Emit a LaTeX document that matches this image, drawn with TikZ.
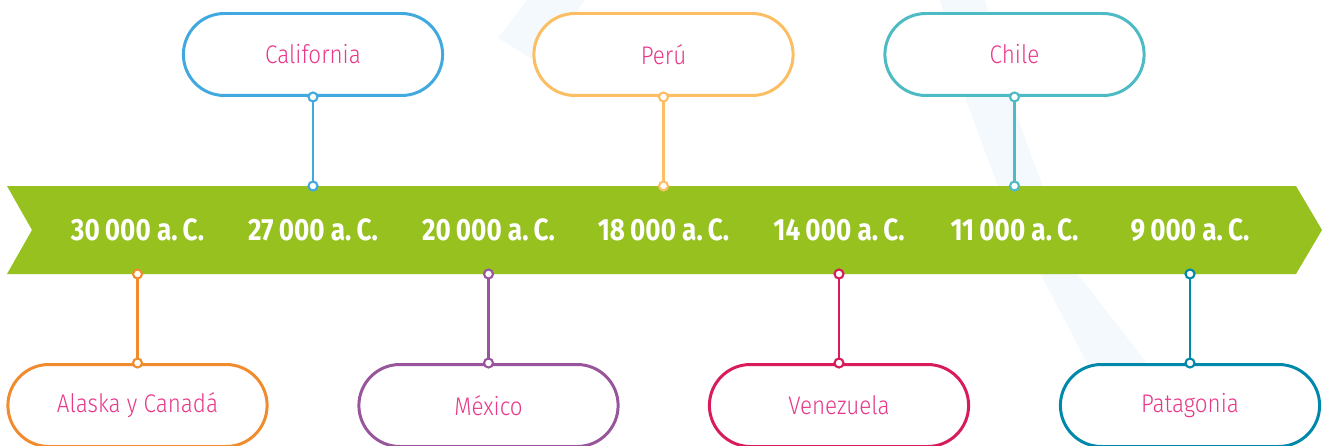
\documentclass[tikz,border=0pt]{standalone}
\usepackage{fontspec}
\setmainfont{Fira Sans}
\newfontfamily\placefont{Fira Sans Light}[FakeStretch=0.88]
\newfontfamily\datefont{Fira Sans}[FakeStretch=0.85]
\usetikzlibrary{shapes.misc}
\definecolor{bandgreen}{RGB}{150,193,31}
\definecolor{placepink}{RGB}{232,56,138}
\definecolor{faintblue}{RGB}{244,249,253}
\definecolor{calblue}{RGB}{63,169,224}
\definecolor{peruyellow}{RGB}{251,190,98}
\definecolor{chileteal}{RGB}{77,187,196}
\definecolor{alaskaorange}{RGB}{240,140,45}
\definecolor{mexpurple}{RGB}{152,85,156}
\definecolor{venred}{RGB}{216,27,90}
\definecolor{patblue}{RGB}{0,136,170}
\begin{document}
\begin{tikzpicture}[x=0.02cm, y=-0.02cm,
  place/.style={draw=#1, line width=1.7pt, fill=white, rounded rectangle, minimum width=5.42cm, minimum height=1.64cm, text=placepink, font=\placefont\fontsize{14.5}{18}\selectfont},
  date/.style={text=white, font=\datefont\bfseries\fontsize{17.5}{20}\selectfont},
  link/.style={draw=#1, line width=1.3pt},
  dot/.style={draw=#1, line width=1.2pt, fill=white}]
\useasboundingbox (0,0) rectangle (1322,446);

% Faint background strokes
\fill[faintblue] (527,0) -- (585,0) -- (555,45) -- (565,80) -- (498,38) -- cycle;
\fill[faintblue] (940,0) -- (985,0) -- (1010,97) -- (1043,187) -- (1077,273) -- (1147,363) -- (1147,420) -- (1087,420) -- (1087,363) -- (1040,273) -- (998,187) -- (965,97) -- cycle;

% Time band
\fill[bandgreen] (7,186) -- (1296,186) -- (1322,230) -- (1296,274) -- (7,274) -- (32,230) -- cycle;
\coordinate (bandtop) at (0,186);
\coordinate (bandbot) at (0,274);

% Dates
\node[date] (d30) at (137.5,230) {30\,000 a.\,C.};
\node[date] (d27) at (313,230) {27\,000 a.\,C.};
\node[date] (d20) at (488.5,230) {20\,000 a.\,C.};
\node[date] (d18) at (663.5,230) {18\,000 a.\,C.};
\node[date] (d14) at (839,230) {14\,000 a.\,C.};
\node[date] (d11) at (1014.5,230) {11\,000 a.\,C.};
\node[date] (d9) at (1190,230) {9\,000 a.\,C.};

% Places above
\node[place=calblue] (california) at (313,54.5) {California};
\node[place=peruyellow] (peru) at (663.5,54.5) {Perú};
\node[place=chileteal] (chile) at (1014.5,54.5) {Chile};

% Places below
\node[place=alaskaorange] (alaska) at (137.5,405.5) {Alaska y Canadá};
\node[place=mexpurple] (mexico) at (488.5,405.5) {México};
\node[place=venred] (venezuela) at (839,405.5) {Venezuela};
\node[place=patblue] (patagonia) at (1190,405.5) {Patagonia};

% Connectors
\draw[link=calblue] (california.south) -- (california.south |- bandtop);
\draw[dot=calblue] (california.south) circle[radius=0.09cm] (california.south |- bandtop) circle[radius=0.09cm];
\draw[link=peruyellow] (peru.south) -- (peru.south |- bandtop);
\draw[dot=peruyellow] (peru.south) circle[radius=0.09cm] (peru.south |- bandtop) circle[radius=0.09cm];
\draw[link=chileteal] (chile.south) -- (chile.south |- bandtop);
\draw[dot=chileteal] (chile.south) circle[radius=0.09cm] (chile.south |- bandtop) circle[radius=0.09cm];

\draw[link=alaskaorange] (alaska.north) -- (alaska.north |- bandbot);
\draw[dot=alaskaorange] (alaska.north) circle[radius=0.09cm] (alaska.north |- bandbot) circle[radius=0.09cm];
\draw[link=mexpurple] (mexico.north) -- (mexico.north |- bandbot);
\draw[dot=mexpurple] (mexico.north) circle[radius=0.09cm] (mexico.north |- bandbot) circle[radius=0.09cm];
\draw[link=venred] (venezuela.north) -- (venezuela.north |- bandbot);
\draw[dot=venred] (venezuela.north) circle[radius=0.09cm] (venezuela.north |- bandbot) circle[radius=0.09cm];
\draw[link=patblue] (patagonia.north) -- (patagonia.north |- bandbot);
\draw[dot=patblue] (patagonia.north) circle[radius=0.09cm] (patagonia.north |- bandbot) circle[radius=0.09cm];
\end{tikzpicture}
\end{document}
